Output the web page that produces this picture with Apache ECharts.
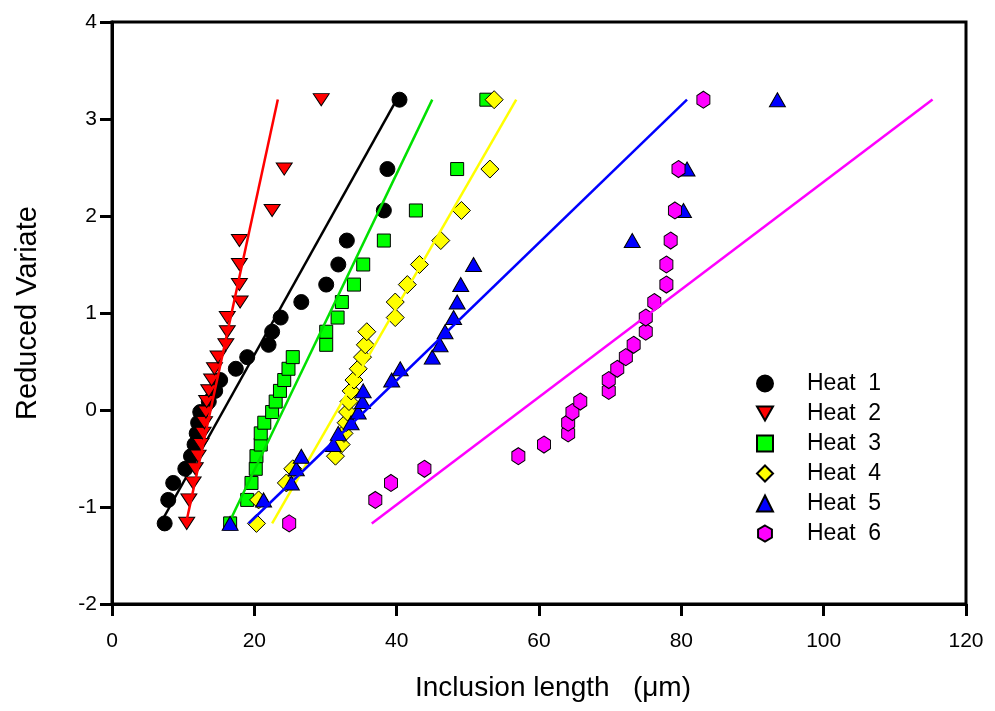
<!DOCTYPE html>
<html>
<head>
<meta charset="utf-8">
<script src="https://cdn.jsdelivr.net/npm/echarts@6/dist/echarts.min.js"></script>
<style>
html,body{margin:0;padding:0;background:#fff;}
#chart{width:995px;height:711px;}
</style>
</head>
<body>
<div id="chart"></div>
<script>
// Reduced variate (y) shared by all heats
var reducedVariate = [-1.169,-0.927,-0.752,-0.606,-0.476,-0.356,-0.241,-0.131,-0.021,0.087,0.197,0.309,0.425,0.545,0.672,0.807,0.953,1.113,1.293,1.500,1.747,2.057,2.484,3.199];

// Inclusion length (x) for each heat
var heat1 = [7.4,7.9,8.6,10.3,11.1,11.6,11.9,12.1,12.4,13.6,14.5,15.2,17.4,19.0,22.0,22.5,23.7,26.6,30.1,31.8,33.0,38.2,38.7,40.4];
var heat2 = [10.5,10.8,11.4,11.7,12.1,12.5,12.8,13.0,13.2,13.3,13.6,14.0,14.4,14.9,16.0,16.2,16.2,18.0,17.9,17.9,17.9,22.5,24.2,29.4];
var heat3 = [16.6,19.0,19.6,20.2,20.3,20.9,20.9,21.4,22.5,23.0,23.6,24.2,24.8,25.4,30.1,30.1,31.7,32.3,34.0,35.3,38.2,42.7,48.5,52.6];
var heat4 = [20.3,20.6,24.5,25.4,31.4,32.2,32.6,32.9,33.1,33.3,33.6,34.0,34.6,35.2,35.6,35.8,39.8,39.8,41.5,43.2,46.2,49.1,53.1,53.7];
var heat5 = [16.6,21.3,25.2,25.9,26.6,31.1,31.8,33.6,34.6,35.2,35.3,39.3,40.5,45.0,46.1,46.8,48.0,48.5,49.0,50.8,73.1,80.3,80.8,93.5];
var heat6 = [24.9,37.0,39.2,43.9,57.1,60.7,64.1,64.1,64.7,65.8,69.8,69.8,71.0,72.2,73.3,75.0,75.0,76.2,77.9,77.9,78.5,79.1,79.6,83.1];

// Fitted lines: x at bottom and top, shared y endpoints
var fitY = [-1.17, 3.2];
var fit1 = [6.8, 40.0];
var fit2 = [10.4, 23.3];
var fit3 = [16.4, 45.0];
var fit4 = [22.5, 56.8];
var fit5 = [19.2, 80.8];
var fit6 = [36.5, 115.3];

var names = ['Heat  1','Heat  2','Heat  3','Heat  4','Heat  5','Heat  6'];
var xTicks = [0,20,40,60,80,100,120];
var yTicks = [-2,-1,0,1,2,3,4];

var hexagon = 'path://M0,-1 L0.866,-0.5 L0.866,0.5 L0,1 L-0.866,0.5 L-0.866,-0.5 Z';
var downTri = 'path://M0,0 L2,0 L1,1.732 Z';

var styles = [
  {symbol:'circle', size:15, fill:'#000000', line:'#000000'},
  {symbol:downTri, size:[16,14], fill:'#ff0000', line:'#ff0000'},
  {symbol:'rect', size:13, fill:'#00ff00', line:'#00e000'},
  {symbol:'diamond', size:[18,18], fill:'#ffff00', line:'#ffff00'},
  {symbol:'triangle', size:[16,14], fill:'#0000ff', line:'#0000ff'},
  {symbol:hexagon, size:[15,17], fill:'#ff00ff', line:'#ff00ff'}
];
var heats = [heat1,heat2,heat3,heat4,heat5,heat6];
var fits = [fit1,fit2,fit3,fit4,fit5,fit6];

var series = [];
heats.forEach(function(xs,i){
  var st = styles[i];
  series.push({
    name: names[i], type:'scatter',
    symbol: st.symbol, symbolSize: st.size, symbolKeepAspect: true,
    itemStyle:{color:st.fill, borderColor:'#000', borderWidth:1, opacity:1},
    data: xs.map(function(x,k){return [x, reducedVariate[k]];}),
    z: 3 + i*2, silent:true
  });
  series.push({
    name: names[i]+' fit', type:'line', showSymbol:false, symbol:'none',
    lineStyle:{color:st.line, width:2.5},
    data: [[fits[i][0], fitY[0]],[fits[i][1], fitY[1]]],
    z: 4 + i*2, silent:true
  });
});

var chart = echarts.init(document.getElementById('chart'), null, {renderer:'canvas'});
var FONT = '"Liberation Sans", Arial, sans-serif';
chart.setOption({
  animation:false,
  backgroundColor:'#ffffff',
  grid:{left:112, right:29, top:22, bottom:107, show:true, borderColor:'#000', borderWidth:3, backgroundColor:'transparent'},
  legend:{
    data: names.map(function(n,i){return {name:n, icon: styles[i].symbol};}),
    orient:'vertical', left:751, top:367, itemWidth:16, itemHeight:16, itemGap:7,
    textStyle:{fontFamily:FONT, fontSize:23, color:'#000', padding:[0,0,0,29]},
    selectedMode:false
  },
  xAxis:{
    type:'value', min:xTicks[0], max:xTicks[xTicks.length-1], interval:20,
    name:'Inclusion length   (μm)', nameLocation:'middle', nameGap:70,
    nameTextStyle:{fontFamily:FONT, fontSize:28, color:'#000', padding:[0,0,0,28]},
    axisLine:{show:true, onZero:false, lineStyle:{color:'#000', width:3}},
    axisTick:{show:true, length:12, lineStyle:{color:'#000', width:3}},
    axisLabel:{fontFamily:FONT, fontSize:21, color:'#000', margin:27},
    splitLine:{show:false}
  },
  yAxis:{
    type:'value', min:yTicks[0], max:yTicks[yTicks.length-1], interval:1,
    name:'Reduced Variate', nameLocation:'middle', nameGap:70,
    nameTextStyle:{fontFamily:FONT, fontSize:29, color:'#000'},
    axisLine:{show:true, onZero:false, lineStyle:{color:'#000', width:3}},
    axisTick:{show:true, length:12, lineStyle:{color:'#000', width:3}},
    axisLabel:{fontFamily:FONT, fontSize:21, color:'#000', margin:15},
    splitLine:{show:false}
  },
  series: series
});
</script>
</body>
</html>
